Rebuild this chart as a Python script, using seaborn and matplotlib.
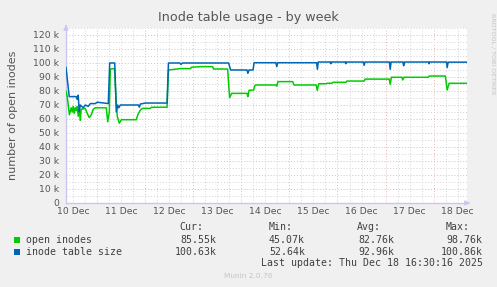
import matplotlib
matplotlib.use("Agg")
import matplotlib.pyplot as plt
from matplotlib.patches import Rectangle
import seaborn as sns
import pandas as pd

# ---------------- data (hours since 10 Dec 00:00, values in thousands) -------------
open_hours = [8.6, 9.2, 10.3, 11.2, 11.7, 12.2, 12.7, 13.2, 13.7, 14.2, 14.7, 15.2, 15.7,
              16.2, 18.2, 19.2, 20.2, 21.2, 22.2, 23.2, 28.7, 29.4, 30.2, 30.7, 32.8,
              33.7, 34.2, 35.2, 36.2, 43.7, 44.4, 45.7, 46.7, 50.7, 51.2, 59.0, 59.7,
              65.7, 70.7, 71.2, 75.7, 81.7, 82.2, 89.2, 90.2, 91.2, 98.9, 99.3, 99.9,
              102.2, 102.7, 103.2, 113.2, 113.7, 114.3, 121.7, 122.3, 133.4, 133.9,
              134.7, 138.2, 138.7, 141.2, 141.7, 148.2, 148.7, 157.3, 157.8, 169.8,
              170.3, 170.9, 176.2, 176.5, 177.2, 189.2, 189.8, 197.8, 198.7, 199.7, 209.0]
open_values = [80, 76, 63, 68, 65, 69, 64, 68, 66, 69, 62, 68, 59,
               67, 67.5, 64, 61, 63, 67, 68, 68, 58, 65, 95.7, 96,
               70, 61.7, 57, 59.5, 59.5, 63, 66.4, 67.6, 67.6, 68.4, 68.4, 95,
               96, 96, 97, 97.4, 97.4, 95.7, 95.7, 75.2, 78.3, 78.3, 76, 80.5,
               80.7, 83.6, 84.3, 84.3, 83.5, 86.7, 86.7, 84.3, 84.3, 80.5,
               85.2, 85.2, 85.5, 85.5, 86.2, 86.2, 87.1, 87.1, 88.5, 88.5,
               84.8, 89.8, 89.8, 87.9, 89.8, 89.8, 90.7, 90.7, 80.7, 85.5, 85.5]

size_hours = [8.6, 10.2, 13.7, 14.2, 14.7, 15.2, 15.7, 17.2, 18.2, 19.7, 20.7, 23.2, 24.2,
              29.7, 30.4, 32.9, 33.7, 34.4, 34.9, 35.7, 44.7, 45.2, 45.7, 48.2, 59.0,
              59.7, 65.4, 65.9, 66.7, 89.7, 90.7, 98.9, 99.3, 99.9, 101.9, 102.4,
              113.3, 113.7, 114.2, 133.6, 134.0, 134.4, 140.4, 140.7, 140.9, 147.9,
              148.2, 148.4, 156.9, 157.3, 157.7, 169.9, 170.3, 170.7, 176.7, 177.0,
              177.4, 189.4, 189.7, 189.9, 198.4, 198.7, 199.2, 209.0]
size_values = [97, 76, 76, 74, 77, 65, 70, 68, 70, 69, 71, 71, 72,
               71, 100, 100, 65, 70, 68, 70, 70, 68.4, 70.7, 71.4, 71.4,
               100, 100, 99, 100, 100, 95, 95, 92.6, 95, 95, 100.2,
               100.2, 97.4, 100.2, 100.2, 95.5, 100.7, 100.7, 99.5, 100.7, 100.7,
               99.5, 100.7, 100.7, 98.3, 100.7, 100.7, 95.5, 100.7, 100.7, 98,
               100.7, 100.7, 99.5, 100.7, 100.7, 96.7, 100.6, 100.6]

series_names = ["open inodes", "inode table size"]
series_colors = ["#00cc00", "#0066b3"]
day_labels = ["10 Dec", "11 Dec", "12 Dec", "13 Dec", "14 Dec", "15 Dec", "16 Dec", "17 Dec", "18 Dec"]
label_hours = [12, 36, 60, 84, 108, 132, 156, 180, 204]
y_tick_values = [0, 10, 20, 30, 40, 50, 60, 70, 80, 90, 100, 110, 120]
y_tick_labels = ["0", "10 k", "20 k", "30 k", "40 k", "50 k", "60 k", "70 k", "80 k",
                 "90 k", "100 k", "110 k", "120 k"]
cur_vals = ["85.55k", "100.63k"]
min_vals = ["45.07k", "52.64k"]
avg_vals = ["82.76k", "92.96k"]
max_vals = ["98.76k", "100.86k"]
title = "Inode table usage - by week"
y_label = "number of open inodes"
last_update = "Last update: Thu Dec 18 16:30:16 2025"
version = "Munin 2.0.76"
watermark = "RRDTOOL / TOBI OETIKER"

# ---------------- build frame ----------------
df = pd.concat([
    pd.DataFrame({"hour": open_hours, "value": [v * 1000 for v in open_values], "series": series_names[0]}),
    pd.DataFrame({"hour": size_hours, "value": [v * 1000 for v in size_values], "series": series_names[1]}),
], ignore_index=True)

sns.set_theme(style="white")
plt.rcParams["font.family"] = ["DejaVu Sans"]

W, H = 497, 287
fig = plt.figure(figsize=(W / 100, H / 100), dpi=100, facecolor="#f0f0f0")
L, R, T, B = 66, 467, 28, 203
ax = fig.add_axes([L / W, 1 - B / H, (R - L) / W, (B - T) / H])
ax.set_facecolor("white")

x0, x1 = 8.6, 208.6
y0, y1 = 0, 125000
ax.set_xlim(x0, x1)
ax.set_ylim(y0, y1)

# grid
minor_col = "#d4d4d4"
major_col = "#eeb4b4"
h = 6
while h < x1:
    if h > x0:
        col = major_col if h % 24 == 0 else minor_col
        ax.axvline(h, color=col, lw=0.7, ls=(0, (1, 2)), zorder=1)
    h += 6
for yv in range(5000, 125001, 5000):
    col = major_col if yv % 10000 == 0 else minor_col
    ax.axhline(yv, color=col, lw=0.7, ls=(0, (1, 2)), zorder=1)

sns.lineplot(data=df, x="hour", y="value", hue="series", hue_order=series_names,
             palette=series_colors, ax=ax, legend=False, linewidth=1.1,
             estimator=None, sort=False, zorder=3)

ax.set_xticks(label_hours)
ax.set_xticklabels(day_labels)
ax.set_yticks([v * 1000 for v in y_tick_values])
ax.set_yticklabels(y_tick_labels)
ax.tick_params(axis="both", length=0, labelsize=6.7, colors="#555555")
ax.tick_params(axis="y", pad=5)
ax.tick_params(axis="x", pad=3)
ax.set_xlabel("")
ax.set_ylabel("")

for s in ["top", "right"]:
    ax.spines[s].set_visible(False)
for s in ["left", "bottom"]:
    ax.spines[s].set_color("#c8c8f0")
    ax.spines[s].set_linewidth(1.0)

# axis arrows
ax.annotate("", xy=(1.015, 0), xytext=(0.995, 0), xycoords="axes fraction",
            arrowprops=dict(arrowstyle="-|>", color="#c8c8f0", lw=1, mutation_scale=7),
            annotation_clip=False)
ax.annotate("", xy=(0, 1.035), xytext=(0, 0.99), xycoords="axes fraction",
            arrowprops=dict(arrowstyle="-|>", color="#c8c8f0", lw=1, mutation_scale=7),
            annotation_clip=False)

def fx(x):
    return x / W

def fy(y):
    return 1 - y / H

fig.text(fx(248), fy(18), title, ha="center", va="center", fontsize=9.2, color="#555555")
fig.text(fx(13), fy(115), y_label, ha="center", va="center", rotation=90, fontsize=8, color="#555555")
fig.text(fx(493), fy(54), watermark, ha="center", va="center", rotation=-90, fontsize=4.6, color="#c4c4c4")

mono = dict(family="DejaVu Sans Mono", fontsize=7.1, color="#404040", va="center")
fig.text(fx(203.3), fy(227.5), "Cur:", ha="right", **mono)
fig.text(fx(292.3), fy(227.5), "Min:", ha="right", **mono)
fig.text(fx(381), fy(227.5), "Avg:", ha="right", **mono)
fig.text(fx(470), fy(227.5), "Max:", ha="right", **mono)
rows_y = [240, 252]
for i, name in enumerate(series_names):
    yy = rows_y[i]
    fig.patches.append(Rectangle((fx(14), fy(yy + 3)), 6 / W, 6 / H, transform=fig.transFigure,
                                 facecolor=series_colors[i], edgecolor="none"))
    fig.text(fx(26.5), fy(yy), name, ha="left", **mono)
    fig.text(fx(216.7), fy(yy), cur_vals[i], ha="right", **mono)
    fig.text(fx(305), fy(yy), min_vals[i], ha="right", **mono)
    fig.text(fx(394), fy(yy), avg_vals[i], ha="right", **mono)
    fig.text(fx(482.7), fy(yy), max_vals[i], ha="right", **mono)
fig.text(fx(482.7), fy(263.5), last_update, ha="right", **mono)
fig.text(fx(248), fy(276), version, ha="center", va="center", fontsize=5.3, color="#c4c4c4")

fig.savefig("out.png", dpi=100, facecolor=fig.get_facecolor())
